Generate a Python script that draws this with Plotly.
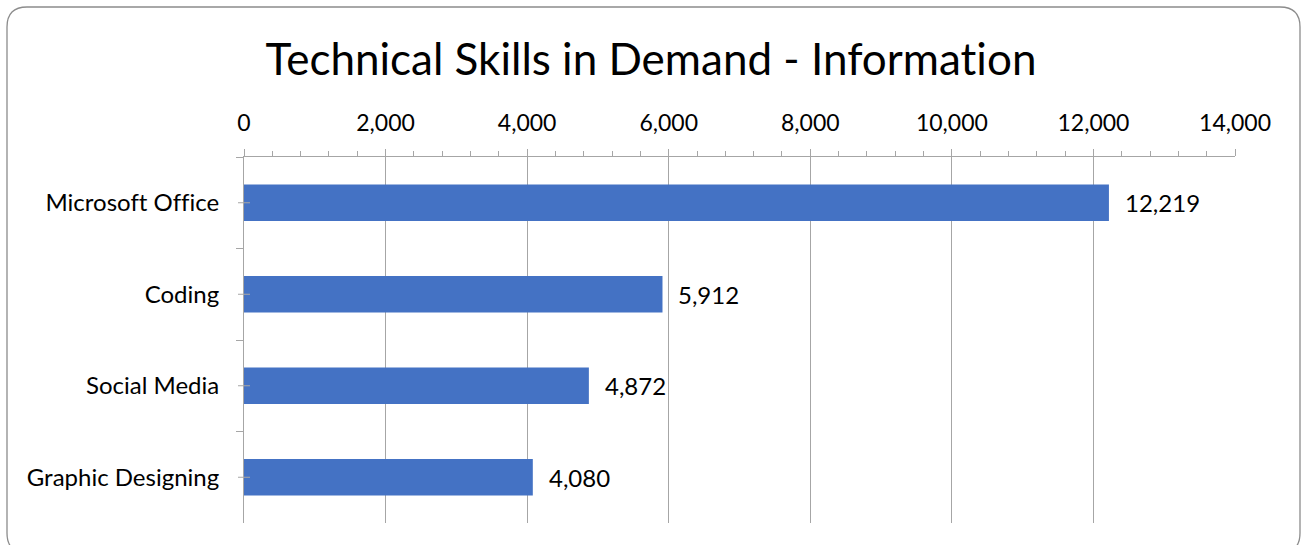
import plotly.graph_objects as go

categories = ["Microsoft Office", "Coding", "Social Media", "Graphic Designing"]
values = [12219, 5912, 4872, 4080]
tick_values = [0, 2000, 4000, 6000, 8000, 10000, 12000, 14000]
tick_labels = ["0", "2,000", "4,000", "6,000", "8,000", "10,000", "12,000", "14,000"]
title_text = "Technical Skills in Demand - Information"

W, H = 1302, 545
L, R, T, B = 244, 1235, 157, 523
FONT = "Lato"
BAR = "#4472C4"
GRID = "#A6A6A6"

fig = go.Figure()
fig.add_trace(go.Bar(
    x=values, y=categories, orientation="h",
    marker=dict(color=BAR, line=dict(width=0)),
    width=0.4, hoverinfo="x+y",
))

for v, c in zip(values, categories):
    fig.add_annotation(x=v, y=c, xref="x", yref="y", text=f"{v:,}",
                       showarrow=False, xanchor="left", xshift=14,
                       font=dict(family=FONT, size=24, color="#000000"))

pw, ph = R - L, B - T
def px(x):
    return (x - L) / pw
def py(y):
    return (B - y) / ph

# rounded border
x0, x1, y0, y1, r = 7, 1300, 7, 553, 20
rx, ry = r / pw, r / ph
X0, X1, Y0, Y1 = px(x0), px(x1), py(y0), py(y1)
path = (f"M {X0+rx},{Y0} L {X1-rx},{Y0} Q {X1},{Y0} {X1},{Y0-ry} "
        f"L {X1},{Y1+ry} Q {X1},{Y1} {X1-rx},{Y1} "
        f"L {X0+rx},{Y1} Q {X0},{Y1} {X0},{Y1+ry} "
        f"L {X0},{Y0-ry} Q {X0},{Y0} {X0+rx},{Y0} Z")
fig.add_shape(type="path", path=path, xref="paper", yref="paper",
              line=dict(color="#8C8C8C", width=1.3), layer="below")

# short ticks at category centres crossing the axis
for c in categories:
    fig.add_shape(type="line", xref="paper", yref="y", x0=-6/pw, x1=6/pw,
                  y0=c, y1=c, line=dict(color=GRID, width=1))

fig.update_layout(
    width=W, height=H,
    margin=dict(l=L, r=W - R, t=T, b=H - B, pad=0),
    paper_bgcolor="white", plot_bgcolor="white",
    showlegend=False,
    title=dict(text=title_text, x=0.5, xref="container", xanchor="center",
               y=1 - 60 / H, yref="container", yanchor="middle",
               font=dict(family=FONT, size=44, color="#000000")),
    font=dict(family=FONT, size=24, color="#000000"),
    bargap=0.6,
)
fig.update_xaxes(
    side="top", range=[0, 14000], tickvals=tick_values, ticktext=tick_labels,
    showgrid=True, gridcolor=GRID, gridwidth=1,
    showline=True, linecolor=GRID, linewidth=1,
    ticks="outside", ticklen=7, tickcolor=GRID, tickwidth=1,
    minor=dict(dtick=400, tick0=0, ticks="outside", ticklen=5, tickcolor=GRID, showgrid=False),
    tickfont=dict(family=FONT, size=23, color="#000000"),
    ticklabelstandoff=9,
    zeroline=False, fixedrange=True,
)
fig.update_yaxes(
    categoryorder="array", categoryarray=categories, autorange="reversed",
    showline=True, linecolor=GRID, linewidth=1,
    ticks="outside", tickson="boundaries", ticklen=7, tickcolor=GRID,
    showgrid=False, ticklabelstandoff=19,
    tickfont=dict(family=FONT, size=24, color="#000000"),
    fixedrange=True,
)

post = ("document.body.style.margin='0';document.body.style.overflow='hidden';"
        "var s=document.createElement('style');"
        "s.textContent='text{font-variant-ligatures:none;font-feature-settings:\"liga\" 0,\"clig\" 0;}';"
        "document.head.appendChild(s);")
fig.write_html("out.html", config={"displayModeBar": False}, post_script=post)
